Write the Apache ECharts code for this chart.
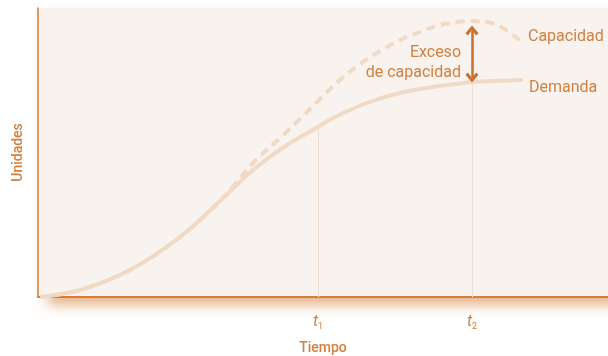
<!DOCTYPE html>
<html>
<head>
<meta charset="utf-8">
<script src="https://cdn.jsdelivr.net/npm/echarts@6/dist/echarts.min.js"></script>
<style>html,body{margin:0;padding:0;background:#fff;}#c{width:608px;height:356px;}</style>
</head>
<body>
<div id="c"></div>
<script>
// Time (x) and units (y)
const demandX = [0.2, 4.2, 9.2, 14.2, 18.2, 21.5, 24.9, 28.0, 29.5, 32.9, 36.2, 39.5, 42.2, 43.4, 48.5];
const demandY = [0, 0.7, 2.7, 6.0, 9.6, 12.7, 15.2, 17.0, 17.9, 19.4, 20.4, 21.0, 21.35, 21.5, 21.7];
const capacityX = [0.2, 4.2, 9.2, 14.2, 18.2, 21.5, 24.2, 26.2, 28.2, 30.2, 32.2, 34.2, 36.2, 38.2, 40.2, 41.9, 43.4, 45.9, 48.5];
const capacityY = [0, 0.7, 2.7, 6.0, 9.6, 13.4, 15.9, 17.8, 19.8, 21.7, 23.3, 24.6, 25.7, 26.5, 27.2, 27.5, 27.6, 27.2, 25.4];
const tTimes = [28.0, 43.4];
const tickLabels = ['1', '2'];
const seriesNames = ['Demanda', 'Capacidad'];
const annotation = 'Exceso\nde capacidad';

const txt = '#d2803f';
const curve = '#f1dac5';
const font = 'Roboto';
const pairs = (xs, ys) => xs.map((x, i) => [x, ys[i]]);
const yAt = (xs, ys, x) => ys[xs.indexOf(x)];
const t2 = tTimes[1];
const dT2 = yAt(demandX, demandY, t2), cT2 = yAt(capacityX, capacityY, t2);
const chevron = 'path://M5,0 L10,6 L8.2,7.8 L5,3.6 L1.8,7.8 L0,6 Z';

const chart = echarts.init(document.getElementById('c'), null, {renderer: 'canvas'});
chart.setOption({
  animation: false,
  backgroundColor: '#ffffff',
  grid: {
    left: 38, right: 0, top: 8, bottom: 59,
    outerBoundsMode: 'none', containLabel: false,
    show: true, backgroundColor: '#f8f3ee', borderWidth: 0,
    shadowColor: 'rgba(214,128,60,0.6)', shadowBlur: 12, shadowOffsetX: 10, shadowOffsetY: 8
  },
  xAxis: {
    type: 'value', min: 0, max: 57,
    name: 'Tiempo', nameLocation: 'middle', nameGap: 44,
    nameTextStyle: {color: txt, fontFamily: font, fontSize: 14, fontWeight: 500},
    axisLine: {show: true, onZero: false, lineStyle: {color: '#d97c36', width: 2}},
    axisTick: {show: false},
    splitLine: {show: false},
    axisLabel: {
      customValues: tTimes, margin: 15,
      formatter: v => '{t|t}{s|' + tickLabels[tTimes.indexOf(v)] + '}',
      rich: {
        t: {fontFamily: font, fontStyle: 'italic', fontSize: 16, color: txt},
        s: {fontFamily: font, fontSize: 9, color: txt, padding: [10, 0, 0, 0]}
      }
    }
  },
  yAxis: {
    type: 'value', min: 0, max: 28.9,
    name: 'Unidades', nameLocation: 'middle', nameGap: 13,
    nameTextStyle: {color: txt, fontFamily: font, fontSize: 14, fontWeight: 500},
    axisLine: {show: true, lineStyle: {color: '#d97c36', width: 1.5}},
    axisTick: {show: false}, axisLabel: {show: false}, splitLine: {show: false}
  },
  series: [
    {
      name: seriesNames[0], type: 'line', smooth: 0.35, symbol: 'none',
      data: pairs(demandX, demandY),
      lineStyle: {color: curve, width: 4},
      endLabel: {show: true, formatter: seriesNames[0], color: txt, fontFamily: font, fontSize: 16, distance: 6, offset: [0, 8]},
      markLine: {
        silent: true, symbol: 'none', label: {show: false},
        lineStyle: {color: '#efdfd0', width: 1, type: 'solid'},
        data: tTimes.map(t => [{coord: [t, 0]}, {coord: [t, yAt(demandX, demandY, t)]}])
      },
      z: 2
    },
    {
      name: seriesNames[1], type: 'line', smooth: 0.35, symbol: 'none',
      data: pairs(capacityX, capacityY),
      lineStyle: {color: curve, width: 4, type: [9, 6]},
      endLabel: {show: true, formatter: seriesNames[1], color: txt, fontFamily: font, fontSize: 16, distance: 5, offset: [0, -6]},
      markLine: {
        silent: true, symbol: [chevron, chevron], symbolSize: [13, 10],
        label: {show: false},
        lineStyle: {color: '#c8702c', width: 2.5, type: 'solid'},
        itemStyle: {color: '#c8702c'},
        data: [[{coord: [t2, dT2 + 0.45]}, {coord: [t2, cT2 - 0.95]}]]
      },
      markPoint: {
        silent: true, symbol: 'circle', symbolSize: 0,
        data: [{coord: [t2, (dT2 + cT2) / 2]}],
        label: {
          show: true, position: 'left', distance: 11, offset: [0, 11],
          formatter: annotation, align: 'right',
          color: txt, fontFamily: font, fontSize: 16, lineHeight: 20
        }
      },
      z: 3
    }
  ]
});
</script>
</body>
</html>
